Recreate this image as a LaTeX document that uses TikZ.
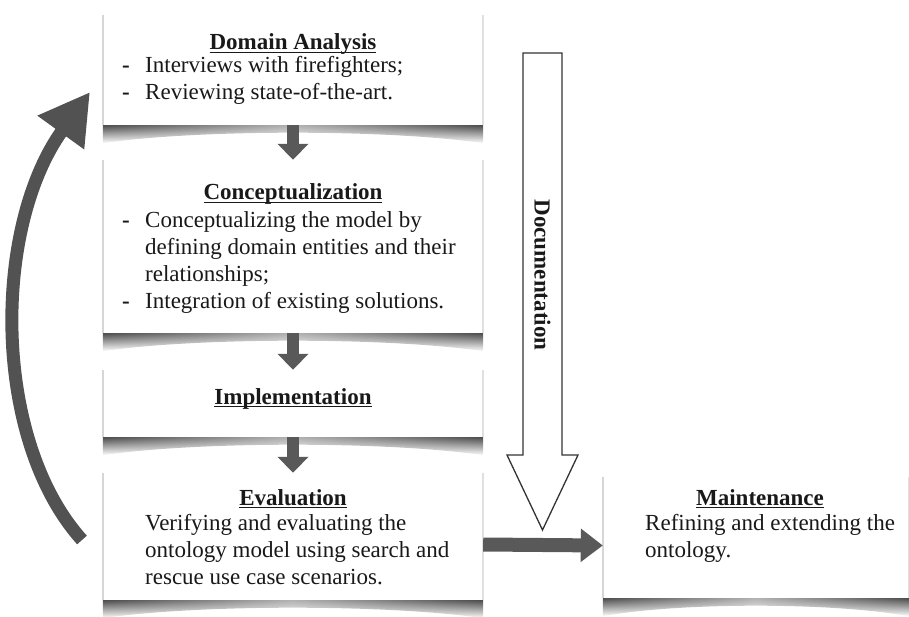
\documentclass[tikz,border=0pt]{standalone}
\usepackage{fontspec}
\setmainfont{Liberation Serif}
\usetikzlibrary{arrows.meta,calc,positioning,fadings}

% underlined phase title
\newcommand{\phaseunder}[1]{\leavevmode\setbox0\hbox{#1}\rlap{\rule[-3pt]{\wd0}{1.1pt}}\box0}

% curled shadow under a phase box, faint side edges
\newcommand{\phaseshadow}[1]{%
  \shade[left color=black!70,right color=black!70,middle color=black!30,path fading=south]
    (#1.south west) -- (#1.south east) -- ([yshift=-18pt]#1.south east)
    .. controls ([yshift=-4pt]$(#1.south)!0.5!(#1.south east)$) and ([yshift=-4pt]$(#1.south)!0.5!(#1.south west)$)
    .. ([yshift=-18pt]#1.south west) -- cycle;
  \draw[black!16,line width=2pt] (#1.north west) -- (#1.south west);
  \draw[black!12,line width=1.5pt] (#1.north east) -- (#1.south east);
}

\begin{document}
\begin{tikzpicture}[x=1pt,y=-1pt,font=\fontsize{23}{27}\selectfont,
    phase node/.style={fill=white,inner sep=0pt,minimum width=380pt},
    title text/.style={anchor=base,inner sep=0pt,font=\fontsize{23}{27}\selectfont\bfseries,text=black!90},
    item text/.style={anchor=base west,inner sep=0pt,text=black!90},
    flow arrow/.style={draw=black!65,line width=12pt,-{Triangle[length=16pt,width=30pt]}},
    loop arrow/.style={draw=black!68,line width=13pt,-{Triangle[length=50pt,width=54pt]}}]

\useasboundingbox (0,0) rectangle (909,617);

% phases
\node[phase node,minimum height=110pt] (da)    at (293,70)    {};
\node[phase node,minimum height=173pt] (conc)  at (293,246.5) {};
\node[phase node,minimum height=67pt]  (impl)  at (293,403.5) {};
\node[phase node,minimum height=127pt] (eval)  at (293,536.5) {};
\node[phase node,minimum height=121pt,minimum width=306pt] (maint) at (756,537.5) {};

\phaseshadow{da}
\phaseshadow{conc}
\phaseshadow{impl}
\phaseshadow{eval}
\phaseshadow{maint}

% texts
\node[title text] (da title) at (293,50) {\phaseunder{Domain Analysis}};
\node[item text] (da items) at (122,73) {\begin{tabular}[t]{@{}p{23pt}@{}l@{}}
  \textbf{-} & Interviews with firefighters;\\
  \textbf{-} & Reviewing state-of-the-art.
\end{tabular}};

\node[title text] (conc title) at (293,200) {\phaseunder{Conceptualization}};
\node[item text] (conc items) at (122,228) {\begin{tabular}[t]{@{}p{23pt}@{}l@{}}
  \textbf{-} & Conceptualizing the model by\\
             & defining domain entities and their\\
             & relationships;\\
  \textbf{-} & Integration of existing solutions.
\end{tabular}};

\node[title text] (impl title) at (293,404) {\phaseunder{Implementation}};

\node[title text] (eval title) at (293,505) {\phaseunder{Evaluation}};
\node[item text] (eval items) at (145,530) {\begin{tabular}[t]{@{}l@{}}
  Verifying and evaluating the\\
  ontology model using search and\\
  rescue use case scenarios.
\end{tabular}};

\node[title text] (maint title) at (760,505) {\phaseunder{Maintenance}};
\node[item text] (maint items) at (645,530) {\begin{tabular}[t]{@{}l@{}}
  Refining and extending the\\
  ontology.
\end{tabular}};

% documentation arrow
\draw[black!80,line width=1.3pt,fill=white] (523,53) -- (562,53) -- (562,455) -- (578,455)
  -- (542.5,530) -- (507,455) -- (523,455) -- cycle;
\node[rotate=-90,font=\fontsize{23}{27}\selectfont\bfseries,text=black!90] (doc) at (542.5,275) {Documentation};

% flow
\draw[flow arrow] (da.south) -- (conc.north);
\draw[flow arrow] (conc.south) -- (impl.north);
\draw[flow arrow] (impl.south) -- (eval.north);
\draw[flow arrow,line width=14pt,-{Triangle[length=22pt,width=32pt]}]
  ([yshift=-8pt]eval.east) -- ([yshift=-8pt]maint.west);

% iteration
\coordinate (loop start) at (82,540);
\coordinate (loop end) at (90,92);
\draw[loop arrow] (loop start) .. controls (-8,440) and (-8,228) .. (loop end);
\end{tikzpicture}
\end{document}
